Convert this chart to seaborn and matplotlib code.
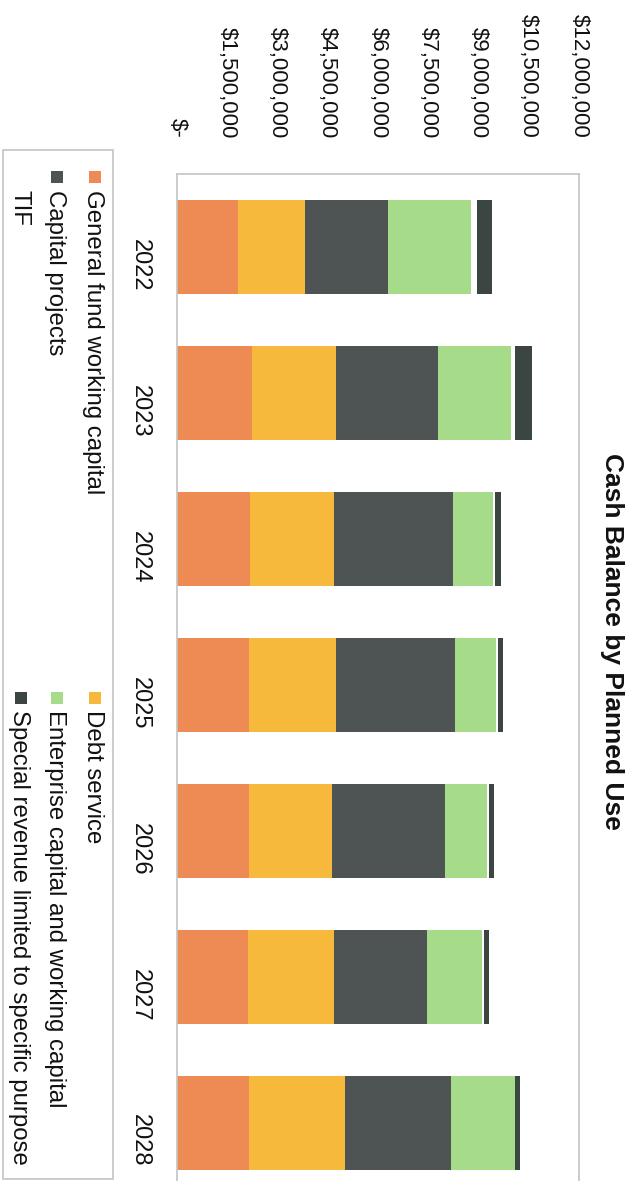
import matplotlib
matplotlib.use("Agg")
import matplotlib.pyplot as plt
from matplotlib.patches import Rectangle
import numpy as np
import pandas as pd
import seaborn as sns

# ---- data -------------------------------------------------------------
years = ["2022", "2023", "2024", "2025", "2026", "2027", "2028"]

general_fund = [1810000, 2230000, 2170000, 2140000, 2140000, 2110000, 2140000]
debt_service = [2020000, 2520000, 2520000, 2610000, 2490000, 2580000, 2880000]
capital_projects = [2470000, 3030000, 3560000, 3560000, 3360000, 2760000, 3150000]
enterprise = [2490000, 2200000, 1190000, 1220000, 1250000, 1660000, 1930000]
tif = [180000, 120000, 60000, 50000, 80000, 60000, 0]
special_revenue = [420000, 500000, 180000, 150000, 130000, 150000, 150000]

series_names = [
    "General fund working capital",
    "Debt service",
    "Capital projects",
    "Enterprise capital and working capital",
    "TIF",
    "Special revenue limited to specific purpose",
]
series_values = [general_fund, debt_service, capital_projects, enterprise, tif, special_revenue]
series_colors = ["#EE8A53", "#F7B93B", "#4E5353", "#A6DC89", "#FFFFFF", "#3B4542"]

value_ticks = [0, 1500000, 3000000, 4500000, 6000000, 7500000, 9000000, 10500000, 12000000]

# ---- style ------------------------------------------------------------
sns.set_style("white")
plt.rcParams["font.family"] = ["Liberation Sans", "DejaVu Sans"]

W, H = 635, 1181
fig = plt.figure(figsize=(W / 100, H / 100), dpi=100)
fig.patch.set_facecolor("white")


def fx(px):
    return px / W


def fy(py):
    return 1 - py / H


ax = fig.add_axes([fx(177), fy(1196), fx(579) - fx(177), fy(174) - fy(1196)])

# stacked horizontal bars: draw cumulative totals from the outermost layer inward
cum = np.cumsum(np.array(series_values, dtype=float), axis=0)
df = pd.DataFrame({"year": years})
for i in reversed(range(len(series_names))):
    df["total"] = cum[i]
    sns.barplot(data=df, x="total", y="year", orient="h", color=series_colors[i],
                saturation=1, width=0.65, errorbar=None, linewidth=0, ax=ax)

ax.set_xlim(0, 12000000)
ax.set_xticks(value_ticks)
ax.set_xticklabels(["$-" if v == 0 else f"${v:,.0f}" for v in value_ticks])
ax.xaxis.tick_top()
ax.tick_params(axis="x", length=0, pad=26, labelsize=16, labelrotation=-90, colors="#111111")
ax.tick_params(axis="y", length=0, pad=18.5, labelsize=17, labelrotation=-90, colors="#111111")
ax.set_xlabel("")
ax.set_ylabel("")
for sp in ax.spines.values():
    sp.set_visible(True)
    sp.set_color("#C4C4C4")
    sp.set_linewidth(1.2)

# title
fig.text(fx(612), fy(641), "Cash Balance by Planned Use", rotation=-90,
         ha="center", va="center", fontsize=19, fontweight="bold", color="#111111")

# legend (rotated along with the chart)
fig.add_artist(Rectangle((fx(3), fy(1179)), fx(113) - fx(3), fy(150) - fy(1179),
                         transform=fig.transFigure, fill=False,
                         edgecolor="#C4C4C4", linewidth=1.2))
row_x = [93, 55, 19]
col_y = [190, 710]
marker_y = [177, 698]
for k, (name, color) in enumerate(zip(series_names, series_colors)):
    col, row = k % 2, k // 2
    mx, my = row_x[row] + 2, marker_y[col]
    fig.add_artist(Rectangle((fx(mx - 6), fy(my + 6)), fx(12), 12 / H,
                             transform=fig.transFigure, facecolor=color,
                             edgecolor="none"))
    fig.text(fx(row_x[row]), fy(col_y[col]), name, rotation=-90,
             rotation_mode="anchor", ha="left", va="center",
             fontsize=17.3, color="#111111")

fig.savefig("out.png", dpi=100)
